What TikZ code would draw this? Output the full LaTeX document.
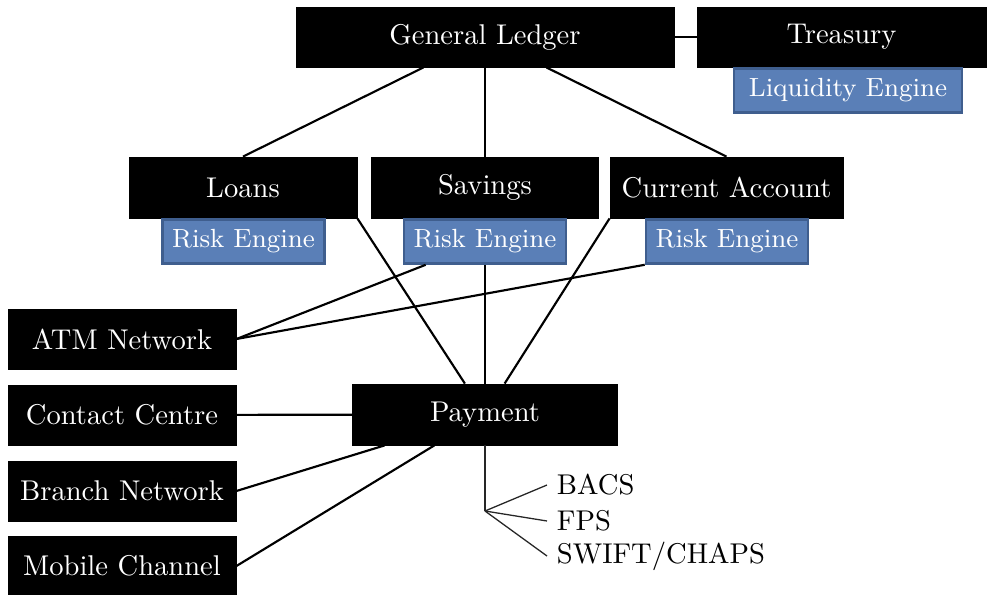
\documentclass[tikz,border=0pt]{standalone}
\usetikzlibrary{positioning}
\definecolor{engfill}{HTML}{5A7FB7}
\definecolor{engdraw}{HTML}{3F5E8E}
\tikzset{
  sysbox/.style={fill=black, draw=black, line width=0.3pt, text=white, inner sep=0pt, minimum height=21pt, font=\fontsize{10}{12}\selectfont},
  engbox/.style={fill=engfill, draw=engdraw, line width=0.9pt, text=white, inner sep=0pt, minimum width=56.7pt, minimum height=15.4pt, font=\fontsize{9.2}{11}\selectfont},
  link/.style={line width=0.75pt, black},
  fan/.style={line width=0.45pt, black!85},
  lbl/.style={inner sep=3.3pt, font=\fontsize{10}{12}\selectfont, anchor=west}
}
\begin{document}
\begin{tikzpicture}[x=0.35pt,y=-0.35pt]
\useasboundingbox (0,0) rectangle (987,594);
% top
\node[sysbox, minimum width=132.3pt] (gl) at (485,37) {General Ledger};
\node[sysbox, minimum width=101.15pt] (tr) at (841.5,37) {Treasury};
\node[engbox, minimum width=79.8pt] (liq) at (848,90.5) {Liquidity Engine};
% products
\node[sysbox, minimum width=79.8pt, minimum height=21.35pt] (loans) at (243,187.5) {Loans};
\node[sysbox, minimum width=79.45pt, minimum height=21.35pt] (sav) at (485,187.5) {Savings};
\node[sysbox, minimum width=81.55pt, minimum height=21.35pt] (cur) at (726.5,187.5) {Current Account};
\node[engbox] (re1) at (243.5,241.5) {Risk Engine};
\node[engbox] (re2) at (485,241.5) {Risk Engine};
\node[engbox] (re3) at (727,241.5) {Risk Engine};
% channels
\node[sysbox, minimum width=79.8pt] (atm) at (122,339) {ATM Network};
\node[sysbox, minimum width=79.8pt] (cc) at (122,415) {Contact Centre};
\node[sysbox, minimum width=79.8pt] (br) at (122,491) {Branch Network};
\node[sysbox, minimum width=79.8pt] (mob) at (122,566) {Mobile Channel};
% payment
\node[sysbox, minimum width=92.75pt, minimum height=21.35pt] (pay) at (485,414.5) {Payment};
% schemes
\coordinate (fork) at (485,511);
\node[lbl] (bacs) at (547,485) {BACS};
\node[lbl] (fps) at (547,521) {FPS};
\node[lbl] (swift) at (547,556) {SWIFT/CHAPS};
% connectors
\draw[link] (gl) -- (tr);
\draw[link] (gl) -- (loans.north);
\draw[link] (gl) -- (sav);
\draw[link] (gl) -- (cur.north);
\draw[link] (loans.south east) -- (pay);
\draw[link] (cur.south west) -- (pay);
\draw[link] (re2) -- (pay);
\draw[link] (atm.east) -- (re2);
\draw[link] (atm.east) -- (re3.south west);
\draw[link] (cc) -- (pay);
\draw[link] (br.east) -- (pay);
\draw[link] (mob.east) -- (pay);
\draw[fan] (pay.south) -- (fork);
\draw[fan] (fork) -- (bacs.west);
\draw[fan] (fork) -- (fps.west);
\draw[fan] (fork) -- (swift.west);
\end{tikzpicture}
\end{document}
